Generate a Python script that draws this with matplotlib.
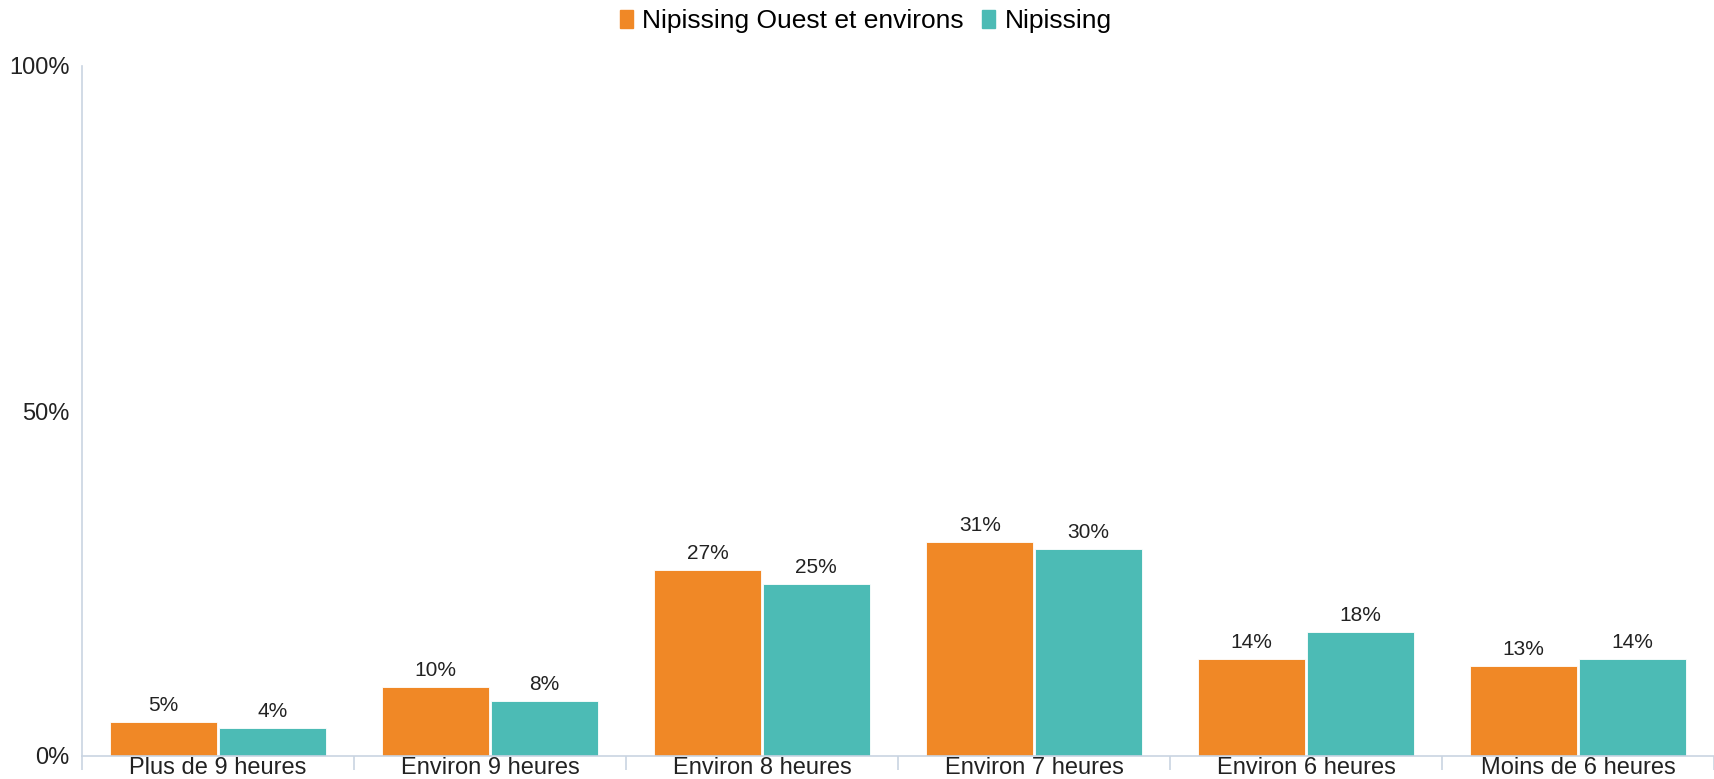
import matplotlib.pyplot as plt
import numpy as np
from matplotlib.patches import Patch

categories = ["Plus de 9 heures", "Environ 9 heures", "Environ 8 heures",
              "Environ 7 heures", "Environ 6 heures", "Moins de 6 heures"]
ouest = [5, 10, 27, 31, 14, 13]
nipissing = [4, 8, 25, 30, 18, 14]
series_names = ["Nipissing Ouest et environs", "Nipissing"]

ORANGE = "#F08826"
TEAL = "#4CBBB5"
AXIS = "#C9D4E2"

plt.rcParams['font.family'] = ['Liberation Sans', 'DejaVu Sans']

fig = plt.figure(figsize=(17.14, 7.79), dpi=100)
W, H = 1714, 779
left, right, bottom, top = 82, 1714, 756, 66
cat_w = 273.7
ax = fig.add_axes([left / W, 1 - bottom / H, (right - left) / W, (bottom - top) / H])

x = np.arange(len(categories))
bw = 0.395
b1 = ax.bar(x - bw / 2 - 0.002, ouest, bw, color=ORANGE, edgecolor="white", linewidth=0.6)
b2 = ax.bar(x + bw / 2 + 0.002, nipissing, bw, color=TEAL, edgecolor="white", linewidth=0.6)

for bars, vals in ((b1, ouest), (b2, nipissing)):
    for rect, v in zip(bars, vals):
        ax.annotate(f"{v}%", (rect.get_x() + rect.get_width() / 2, rect.get_height()),
                    xytext=(0, 5), textcoords="offset points", ha="center", va="bottom",
                    fontsize=15, color="#222222")

ax.set_xlim(-0.5, -0.5 + (right - left) / cat_w)
ax.set_ylim(0, 100)
ax.set_yticks([0, 50, 100])
ax.set_yticklabels(["0%", "50%", "100%"])
ax.tick_params(axis="y", length=0, labelsize=17, pad=9, labelcolor="#222222")

ax.set_xticks(x)
ax.set_xticklabels(categories)
ax.tick_params(axis="x", which="major", length=0, labelsize=17, pad=1, labelcolor="#222222")
ax.set_xticks(np.arange(len(categories) + 1) - 0.5, minor=True)
ax.tick_params(axis="x", which="minor", length=10, color=AXIS, width=1.2)

for s in ("top", "right"):
    ax.spines[s].set_visible(False)
ax.spines["left"].set_color(AXIS)
ax.spines["bottom"].set_color(AXIS)
ax.spines["left"].set_linewidth(1.2)
ax.spines["bottom"].set_linewidth(1.2)

handles = [Patch(color=ORANGE), Patch(color=TEAL)]
fig.legend(handles, series_names, loc="center", bbox_to_anchor=(866 / W, 1 - 21 / H),
           ncol=2, frameon=False, fontsize=19, handlelength=0.48, handleheight=0.7,
           handletextpad=0.35, columnspacing=0.7)

fig.savefig("out.png", dpi=100)
